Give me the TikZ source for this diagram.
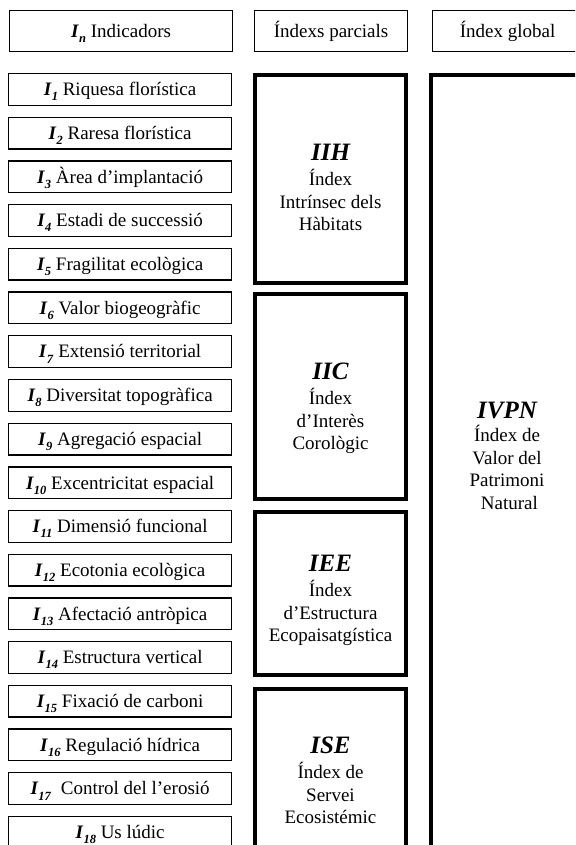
\documentclass[tikz,border=0pt]{standalone}
\usepackage{fontspec}
\setmainfont{Liberation Serif}
\newcommand{\Ix}[1]{\textbf{\textit{I}}\raisebox{-0.27em}{\fontsize{12.5}{12.5}\selectfont\textbf{\textit{#1}}}}
\begin{document}
\begin{tikzpicture}[x=1pt,y=-1pt,
  every node/.style={font=\fontsize{19}{22.5}\selectfont},
  thinbox/.style={draw,line width=1.3pt,anchor=north west,inner sep=0pt,outer sep=0pt,
    text height=12.6pt,text depth=0pt,align=center},
  indbox/.style={thinbox,minimum width=223pt,minimum height=31.7pt},
  headbox/.style={thinbox,minimum height=41pt},
  thickbox/.style={draw,line width=4pt,anchor=north west,inner sep=0pt,outer sep=0pt},
  boxlabel/.style={anchor=north,inner sep=0pt,align=center},
  labfont/.style={},
]
\useasboundingbox (0,0) rectangle (575,845);
\clip (0,0) rectangle (575,845);
\newcommand{\Lab}[1]{{\fontsize{25}{25}\selectfont\bfseries\itshape #1}}
% headers
\node[headbox,minimum width=223pt] (h1) at (9.6,10.6) {\Ix{n} Indicadors};
\node[headbox,minimum width=153pt] (h2) at (254.6,10.6) {Índexs parcials};
\node[headbox,minimum width=150pt] (h3) at (432.6,10.6) {Índex global};
% indicators
\foreach \n/\t [count=\k from 0] in {
  1/Riquesa florística,
  2/Raresa florística,
  3/Àrea d’implantació,
  4/Estadi de successió,
  5/Fragilitat ecològica,
  6/Valor biogeogràfic,
  7/Extensió territorial,
  8/Diversitat topogràfica,
  9/Agregació espacial,
  10/Excentricitat espacial,
  11/Dimensió funcional,
  12/Ecotonia ecològica,
  13/Afectació antròpica,
  14/Estructura vertical,
  15/Fixació de carboni,
  16/Regulació hídrica,
  17/\ Control del l’erosió,
  18/Us lúdic}
{
  \node[indbox] (i\n) at (8.6,73.6+\k*43.7) {\Ix{\n} \t};
}
% partial index boxes
\node[thickbox,minimum width=151pt,minimum height=208pt] (iih) at (255,75) {};
\node[thickbox,minimum width=151pt,minimum height=205pt] (iic) at (255,294) {};
\node[thickbox,minimum width=151pt,minimum height=163pt] (iee) at (255,512) {};
\node[thickbox,minimum width=151pt,minimum height=190pt] (ise) at (255,689) {};
% global index box
\node[thickbox,minimum width=152pt,minimum height=800pt] (ivpn) at (431,75) {};
% labels
\node[boxlabel] (liih) at (330.5,143.5) {\Lab{IIH}\\[3pt] Índex\\ Intrínsec dels\\ Hàbitats};
\node[boxlabel] (liic) at (330.5,362.5) {\Lab{IIC}\\[3pt] Índex\\ d’Interès\\ Corològic};
\node[boxlabel] (liee) at (330.5,554.5) {\Lab{IEE}\\[3pt] Índex\\ d’Estructura\\ Ecopaisatgística};
\node[boxlabel] (lise) at (330.5,736.5) {\Lab{ISE}\\[3pt] Índex de\\ Servei\\ Ecosistémic};
\node[boxlabel] (livpn) at (507,401.5) {\Lab{IVPN}\\[1pt] Índex de\\ Valor del\\ Patrimoni\\ \ Natural};
\end{tikzpicture}
\end{document}
